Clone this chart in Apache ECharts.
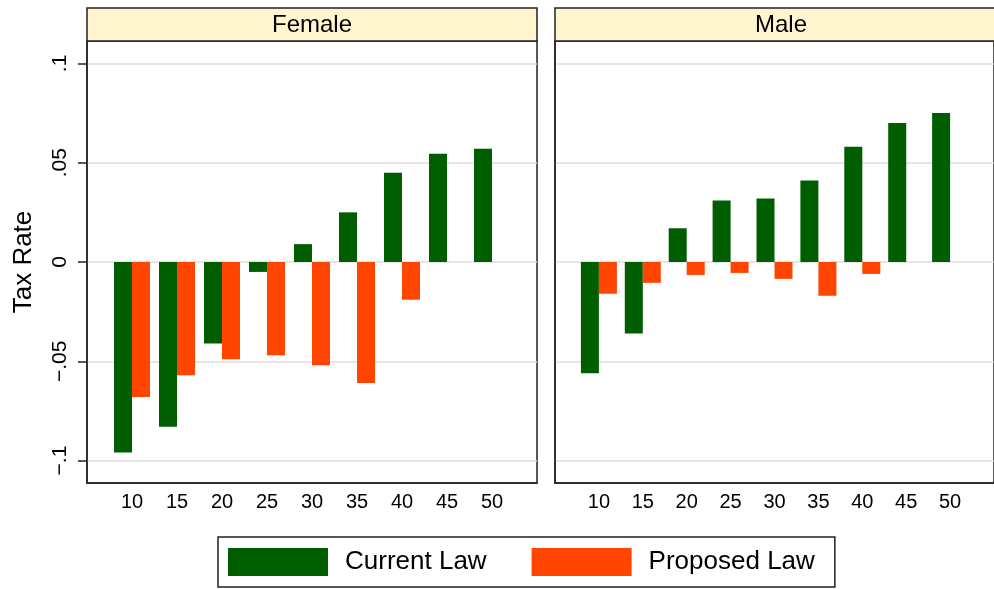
<!DOCTYPE html>
<html>
<head>
<meta charset="utf-8">
<script src="https://cdn.jsdelivr.net/npm/echarts@6/dist/echarts.min.js"></script>
<style>
html,body{margin:0;padding:0;background:#fff;}
#chart{width:994px;height:589px;}
</style>
</head>
<body>
<div id="chart"></div>
<script>
// ---- data ----
const categories = [10, 15, 20, 25, 30, 35, 40, 45, 50];
const femaleCurrent  = [-0.096, -0.083, -0.041, -0.005, 0.009, 0.025, 0.045, 0.0545, 0.057];
const femaleProposed = [-0.068, -0.057, -0.049, -0.047, -0.052, -0.061, -0.019, 0, 0];
const maleCurrent    = [-0.056, -0.036, 0.017, 0.031, 0.032, 0.041, 0.058, 0.070, 0.075];
const maleProposed   = [-0.016, -0.0105, -0.0065, -0.0055, -0.0085, -0.017, -0.006, 0, 0];
const seriesNames = ['Current Law', 'Proposed Law'];
const panelTitles = ['Female', 'Male'];
const yTickValues = [-0.1, -0.05, 0, 0.05, 0.1];
const yTickLabels = ['\u2212.1', '\u2212.05', '0', '.05', '.1'];
const yAxisTitle = 'Tax Rate';

// ---- styling ----
const FONT = 'Liberation Sans, Arial, Helvetica, sans-serif';
const GREEN = '#005e00';
const ORANGE = '#ff4500';
const AXIS = '#222';
const GRIDC = '#dedede';
const STRIP = '#fff6cf';

const chart = echarts.init(document.getElementById('chart'), null, {renderer: 'canvas'});

const grids = [
  {left: 87, top: 41, width: 450, height: 442},
  {left: 555, top: 41, width: 452, height: 442}
];

function pairs(vals) { return categories.map((c, i) => [c, vals[i]]); }

function yLabel(v) {
  const i = yTickValues.findIndex(t => Math.abs(t - v) < 1e-9);
  return i >= 0 ? yTickLabels[i] : '';
}

const xAxes = grids.map((g, i) => ({
  type: 'value', gridIndex: i, min: 5, max: 55,
  axisLine: {show: true, onZero: false, lineStyle: {color: AXIS, width: 1.5}},
  axisTick: {show: false},
  splitLine: {show: false},
  axisLabel: {customValues: categories, color: '#000', fontSize: 20, fontFamily: FONT, margin: 9}
}));

const yAxes = grids.map((g, i) => ({
  type: 'value', gridIndex: i, min: -0.1113, max: 0.1113,
  name: i === 0 ? yAxisTitle : '',
  nameLocation: 'middle', nameRotate: 90, nameGap: 50,
  nameTextStyle: {fontSize: 26, fontFamily: FONT, color: '#000'},
  axisLine: {show: true, onZero: false, lineStyle: {color: AXIS, width: 1.5}},
  axisTick: {show: i === 0, customValues: yTickValues, length: 9, lineStyle: {color: AXIS, width: 1.5}},
  splitLine: {show: true, lineStyle: {color: GRIDC, width: 1.5}},
  axisLabel: {show: i === 0, customValues: yTickValues, rotate: 90, formatter: yLabel,
    color: '#000', fontSize: 21, fontFamily: FONT, margin: 16}
}));

function barSeries(name, vals, idx, color) {
  return {
    type: 'bar', name: name, xAxisIndex: idx, yAxisIndex: idx,
    data: pairs(vals), barWidth: 18, barGap: '0%',
    itemStyle: {color: color}, silent: true, animation: false
  };
}

const stripH = 33;
const graphic = [];
grids.forEach((g, i) => {
  graphic.push({type: 'rect', shape: {x: g.left, y: g.top - stripH, width: g.width, height: stripH},
    style: {fill: STRIP, stroke: AXIS, lineWidth: 1.5}, z: 10});
  graphic.push({type: 'text', x: g.left + g.width / 2, y: g.top - stripH / 2 + 0.5,
    style: {text: panelTitles[i], fontSize: 24, fontFamily: FONT, fill: '#000', align: 'center', verticalAlign: 'middle'}, z: 11});
});

chart.setOption({
  backgroundColor: '#fff',
  animation: false,
  grid: grids.map(g => Object.assign({show: true, borderColor: AXIS, borderWidth: 1.5, backgroundColor: 'transparent'}, g)),
  xAxis: xAxes,
  yAxis: yAxes,
  legend: {
    data: seriesNames, left: 218, top: 537, orient: 'horizontal',
    icon: 'rect', itemWidth: 100, itemHeight: 28, itemGap: 45,
    padding: [11, 20, 11, 10],
    borderColor: AXIS, borderWidth: 1.5,
    textStyle: {fontSize: 26, fontFamily: FONT, color: '#000', padding: [0, 0, 0, 12]},
    selectedMode: false
  },
  series: [
    barSeries(seriesNames[0], femaleCurrent, 0, GREEN),
    barSeries(seriesNames[1], femaleProposed, 0, ORANGE),
    barSeries(seriesNames[0], maleCurrent, 1, GREEN),
    barSeries(seriesNames[1], maleProposed, 1, ORANGE)
  ],
  graphic: graphic
});
</script>
</body>
</html>
